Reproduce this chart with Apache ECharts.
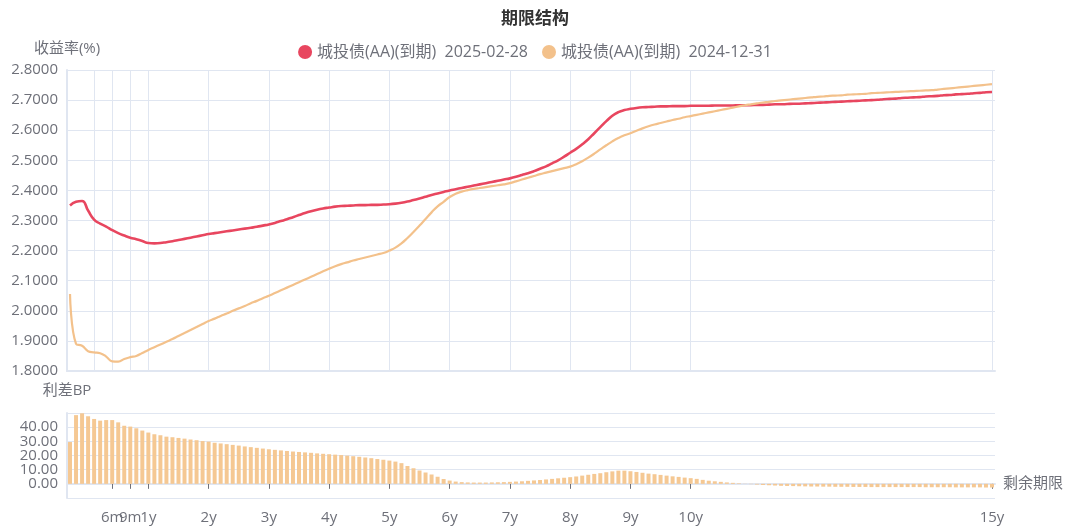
<!DOCTYPE html>
<html>
<head>
<meta charset="utf-8">
<script src="https://cdn.jsdelivr.net/npm/echarts@6/dist/echarts.min.js"></script>
<style>
html,body{margin:0;padding:0;background:#fff;}
#c{width:1070px;height:531px;}
</style>
</head>
<body>
<div id="c"></div>
<script>
// ---- Data ----
const categories = [
"1d","14d","1m","2m","3m","4m","5m","6m","7m","8m","9m","10m","11m","1y",
"1.1y","1.2y","1.3y","1.4y","1.5y","1.6y","1.7y","1.8y","1.9y","2y",
"2.1y","2.2y","2.3y","2.4y","2.5y","2.6y","2.7y","2.8y","2.9y","3y",
"3.1y","3.2y","3.3y","3.4y","3.5y","3.6y","3.7y","3.8y","3.9y","4y",
"4.1y","4.2y","4.3y","4.4y","4.5y","4.6y","4.7y","4.8y","4.9y","5y",
"5.1y","5.2y","5.3y","5.4y","5.5y","5.6y","5.7y","5.8y","5.9y","6y",
"6.1y","6.2y","6.3y","6.4y","6.5y","6.6y","6.7y","6.8y","6.9y","7y",
"7.1y","7.2y","7.3y","7.4y","7.5y","7.6y","7.7y","7.8y","7.9y","8y",
"8.1y","8.2y","8.3y","8.4y","8.5y","8.6y","8.7y","8.8y","8.9y","9y",
"9.1y","9.2y","9.3y","9.4y","9.5y","9.6y","9.7y","9.8y","9.9y","10y",
"10.1y","10.2y","10.3y","10.4y","10.5y","10.6y","10.7y","10.8y","10.9y","11y",
"11.1y","11.2y","11.3y","11.4y","11.5y","11.6y","11.7y","11.8y","11.9y","12y",
"12.1y","12.2y","12.3y","12.4y","12.5y","12.6y","12.7y","12.8y","12.9y","13y",
"13.1y","13.2y","13.3y","13.4y","13.5y","13.6y","13.7y","13.8y","13.9y","14y",
"14.1y","14.2y","14.3y","14.4y","14.5y","14.6y","14.7y","14.8y","14.9y","15y"
];
// tick labels, split over two label rows so close labels are not dropped
const tickLabels = ["6m","9m","1y","2y","3y","4y","5y","6y","7y","8y","9y","10y","15y"];
const tickLabelsA = ["9m","2y","3y","4y","5y","6y","7y","8y","9y","10y","15y"];
const tickLabelsB = ["6m","1y"];
const gridLines = ["3m","6m","9m","1y","2y","3y","4y","5y","6y","7y","8y","9y","10y","15y"];

const nameA = "城投债(AA)(到期)  2025-02-28";
const nameB = "城投债(AA)(到期)  2024-12-31";

const yieldA = [
2.350,2.362,2.365,2.333,2.303,2.290,2.280,2.268,2.258,2.250,2.243,2.238,2.232,2.225,
2.224,2.225,2.228,2.231,2.235,2.239,2.243,2.247,2.251,2.255,
2.258,2.261,2.264,2.267,2.270,2.273,2.276,2.279,2.283,2.287,
2.292,2.298,2.304,2.311,2.318,2.325,2.331,2.336,2.340,2.343,
2.346,2.348,2.349,2.350,2.351,2.351,2.352,2.352,2.353,2.354,
2.356,2.359,2.363,2.368,2.373,2.379,2.385,2.390,2.395,2.400,
2.404,2.408,2.412,2.416,2.420,2.424,2.428,2.432,2.436,2.440,
2.445,2.451,2.457,2.464,2.472,2.480,2.490,2.500,2.512,2.525,
2.538,2.553,2.570,2.590,2.610,2.630,2.648,2.660,2.667,2.671,
2.674,2.676,2.677,2.678,2.679,2.679,2.680,2.680,2.680,2.681,
2.681,2.681,2.681,2.682,2.682,2.682,2.682,2.683,2.683,2.683,
2.684,2.684,2.685,2.686,2.686,2.687,2.688,2.688,2.689,2.690,
2.691,2.692,2.693,2.694,2.695,2.696,2.697,2.698,2.699,2.700,
2.701,2.703,2.704,2.705,2.707,2.708,2.709,2.710,2.712,2.713,
2.714,2.716,2.717,2.719,2.720,2.721,2.723,2.724,2.726,2.727
];
const yieldB = [
2.056,1.890,1.884,1.866,1.862,1.859,1.848,1.832,1.831,1.840,1.846,1.850,1.860,1.870,
1.879,1.888,1.897,1.906,1.916,1.926,1.936,1.946,1.956,1.966,
1.974,1.983,1.991,2.000,2.008,2.016,2.025,2.033,2.042,2.050,
2.059,2.068,2.077,2.086,2.095,2.104,2.113,2.122,2.131,2.140,
2.148,2.155,2.161,2.167,2.172,2.177,2.182,2.187,2.192,2.200,
2.210,2.224,2.242,2.262,2.283,2.305,2.327,2.347,2.362,2.378,
2.389,2.396,2.401,2.405,2.408,2.411,2.414,2.417,2.420,2.424,
2.430,2.436,2.442,2.448,2.454,2.459,2.464,2.469,2.474,2.479,
2.487,2.497,2.509,2.522,2.536,2.550,2.563,2.574,2.583,2.590,
2.598,2.606,2.613,2.619,2.624,2.629,2.634,2.638,2.643,2.647,
2.651,2.655,2.659,2.663,2.667,2.671,2.675,2.679,2.683,2.686,
2.689,2.692,2.694,2.697,2.699,2.701,2.703,2.705,2.707,2.709,
2.711,2.712,2.714,2.715,2.716,2.718,2.719,2.720,2.721,2.723,
2.724,2.725,2.726,2.727,2.728,2.729,2.730,2.731,2.732,2.733,
2.735,2.737,2.739,2.741,2.743,2.745,2.747,2.749,2.751,2.753
];
const spreadBP = [
29.5,48.5,49.8,47.7,45.8,44.6,45.0,45.0,43.4,41.0,40.4,39.2,37.6,36.2,
35.0,34.3,33.3,32.9,32.4,31.9,31.3,30.8,30.2,29.8,
29.0,28.5,28.0,27.5,27.0,26.4,25.9,25.4,24.9,24.4,
24.0,23.6,23.2,22.8,22.5,22.2,21.9,21.5,21.2,20.9,
20.6,20.3,19.9,19.5,19.1,18.6,18.1,17.5,17.0,16.4,
15.7,14.6,12.6,11.0,9.4,8.0,6.6,5.0,3.4,2.3,
1.6,1.2,1.0,0.9,0.9,0.9,1.0,1.1,1.2,1.4,
1.6,1.8,2.1,2.4,2.7,3.1,3.5,3.9,4.3,4.7,
5.2,5.8,6.4,7.0,7.5,8.2,8.8,9.3,9.3,8.9,
8.4,7.8,7.2,6.8,6.3,5.8,5.3,4.9,4.4,4.0,
3.5,2.8,2.2,1.8,1.4,1.0,0.7,0.4,0.1,-0.2,
-0.5,-0.8,-1.0,-1.2,-1.4,-1.5,-1.6,-1.7,-1.8,-1.9,
-1.9,-2.0,-2.0,-2.1,-2.1,-2.1,-2.2,-2.2,-2.2,-2.3,
-2.3,-2.3,-2.3,-2.3,-2.3,-2.3,-2.3,-2.3,-2.4,-2.4,
-2.4,-2.4,-2.4,-2.5,-2.5,-2.5,-2.5,-2.5,-2.6,-2.6
];

// ---- Chart ----
const FONT = "'Open Sans','Noto Sans CJK SC',sans-serif";
const gridColor = '#e0e6f1';
const textColor = '#6e7079';
const redC = '#e8465f';
const orangeC = '#f3c18b';

const labelStyle = {fontSize: 15, color: textColor, fontFamily: FONT, margin: 12};

const chart = echarts.init(document.getElementById('c'), null, {renderer: 'canvas'});
chart.setOption({
  animation: false,
  textStyle: {fontFamily: FONT},
  title: {
    text: '期限结构', left: 'center', top: 6,
    textStyle: {fontSize: 17, fontWeight: 'bold', color: '#333', fontFamily: FONT}
  },
  legend: {
    top: 39, left: 'center', icon: 'circle', itemWidth: 14, itemHeight: 14, itemGap: 14,
    textStyle: {fontSize: 16, color: textColor, fontFamily: FONT},
    data: [nameA, nameB]
  },
  grid: [
    {left: 67, right: 75, top: 70, height: 301, containLabel: false},
    {left: 67, right: 75, top: 413, height: 85, containLabel: false}
  ],
  xAxis: [
    {
      type: 'category', gridIndex: 0, data: categories, boundaryGap: true,
      axisLine: {show: true, lineStyle: {color: gridColor, width: 2}},
      axisTick: {show: false}, axisLabel: {show: false},
      splitLine: {show: true, alignWithLabel: true, interval: (i, v) => gridLines.includes(v),
        lineStyle: {color: gridColor, width: 1}}
    },
    {
      type: 'category', gridIndex: 1, data: categories, boundaryGap: true,
      name: '剩余期限', nameLocation: 'end', nameGap: 8,
      nameTextStyle: {fontSize: 15, color: textColor, fontFamily: FONT, verticalAlign: 'middle'},
      axisLine: {show: true, lineStyle: {color: gridColor, width: 2}},
      axisTick: {show: true, alignWithLabel: true, length: 5, interval: (i, v) => tickLabels.includes(v),
        lineStyle: {color: textColor}},
      axisLabel: Object.assign({show: true, hideOverlap: false, showMinLabel: true, showMaxLabel: true,
        interval: (i, v) => tickLabelsA.includes(v)}, labelStyle),
      splitLine: {show: false}
    },
    {
      type: 'category', gridIndex: 1, position: 'bottom', data: categories, boundaryGap: true,
      axisLine: {show: false},
      axisTick: {show: false},
      axisLabel: Object.assign({show: true, hideOverlap: false, showMinLabel: true, showMaxLabel: true,
        interval: (i, v) => tickLabelsB.includes(v)}, labelStyle),
      splitLine: {show: false}
    }
  ],
  yAxis: [
    {
      type: 'value', gridIndex: 0, min: 1.8, max: 2.8, interval: 0.1,
      name: '收益率(%)', nameGap: 14,
      nameTextStyle: {fontSize: 15, color: textColor, fontFamily: FONT},
      axisLine: {show: true, lineStyle: {color: gridColor, width: 2}},
      axisTick: {show: false},
      axisLabel: {fontSize: 15, color: textColor, fontFamily: FONT, margin: 9,
        formatter: v => v.toFixed(4)},
      splitLine: {show: true, lineStyle: {color: gridColor}}
    },
    {
      type: 'value', gridIndex: 1, min: -10, max: 50, interval: 10,
      name: '利差BP', nameGap: 15,
      nameTextStyle: {fontSize: 15, color: textColor, fontFamily: FONT},
      axisLine: {show: true, lineStyle: {color: gridColor, width: 2}},
      axisTick: {show: false},
      axisLabel: {fontSize: 15, color: textColor, fontFamily: FONT, margin: 9,
        showMinLabel: false, showMaxLabel: false, formatter: v => v.toFixed(2)},
      splitLine: {show: true, lineStyle: {color: gridColor}}
    }
  ],
  series: [
    {
      name: nameA, type: 'line', xAxisIndex: 0, yAxisIndex: 0, data: yieldA,
      smooth: true, showSymbol: false, symbol: 'circle',
      itemStyle: {color: redC}, lineStyle: {color: redC, width: 2.6}
    },
    {
      name: nameB, type: 'line', xAxisIndex: 0, yAxisIndex: 0, data: yieldB,
      smooth: true, showSymbol: false, symbol: 'circle',
      itemStyle: {color: orangeC}, lineStyle: {color: orangeC, width: 2.2}
    },
    {
      name: '利差', type: 'bar', xAxisIndex: 1, yAxisIndex: 1, data: spreadBP,
      barWidth: '66%', itemStyle: {color: '#f5c893'}
    }
  ]
});
</script>
</body>
</html>
